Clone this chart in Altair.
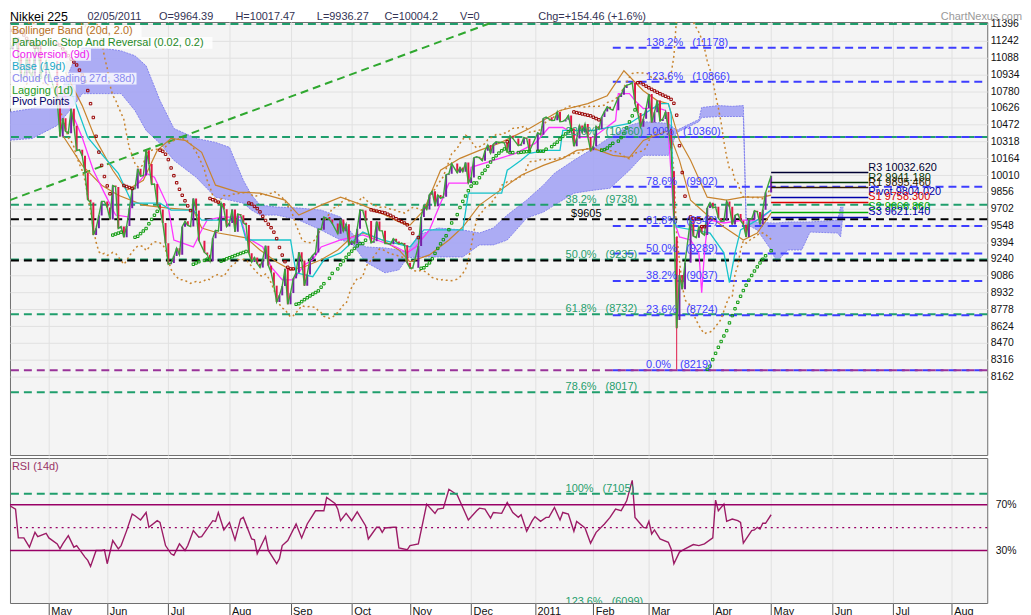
import altair as alt
import numpy as np
import pandas as pd

# ---------------- DATA ----------------
closes_2010 = {
    "03": [(24, 10815), (25, 10828), (26, 10996), (29, 10986), (30, 11097), (31, 11090)],
    "04": [(1, 11244), (2, 11286), (5, 11339), (6, 11282), (7, 11292), (8, 11168), (9, 11204),
           (12, 11181), (13, 11161), (14, 11204), (15, 11273), (16, 11102), (19, 10909), (20, 10900),
           (21, 11091), (22, 10949), (23, 10914), (26, 11165), (27, 11212), (28, 10924), (30, 11057)],
    "05": [(6, 10695), (7, 10364), (10, 10530), (11, 10411), (12, 10394), (13, 10620), (14, 10462),
           (17, 10235), (18, 10242), (19, 10186), (20, 10030), (21, 9784), (24, 9758), (25, 9459),
           (26, 9522), (27, 9639), (28, 9768), (31, 9768)],
    "06": [(1, 9711), (2, 9603), (3, 9914), (4, 9901), (7, 9520), (8, 9537), (9, 9439), (10, 9542),
           (11, 9705), (14, 9879), (15, 9887), (16, 10067), (17, 9999), (18, 10006), (21, 10238),
           (22, 10112), (23, 9923), (24, 9928), (25, 9737), (28, 9693), (29, 9570), (30, 9383)],
    "07": [(1, 9191), (2, 9203), (5, 9266), (6, 9338), (7, 9279), (8, 9535), (9, 9585), (12, 9548),
           (13, 9537), (14, 9795), (15, 9685), (16, 9408), (20, 9300), (21, 9278), (22, 9220),
           (23, 9431), (26, 9503), (27, 9496), (28, 9753), (29, 9696), (30, 9537)],
    "08": [(2, 9570), (3, 9694), (4, 9489), (5, 9653), (6, 9642), (9, 9572), (10, 9551), (11, 9292),
           (12, 9212), (13, 9253), (16, 9196), (17, 9161), (18, 9240), (19, 9362), (20, 9179),
           (23, 9116), (24, 8995), (25, 8845), (26, 8906), (27, 8991), (30, 9149), (31, 8824)],
    "09": [(1, 8927), (2, 9062), (3, 9114), (6, 9301), (7, 9226), (8, 8994), (9, 9098), (10, 9239),
           (13, 9275), (14, 9300), (15, 9516), (16, 9509), (17, 9626), (21, 9602), (22, 9566),
           (24, 9471), (27, 9603), (28, 9495), (29, 9559), (30, 9369)],
    "10": [(1, 9404), (4, 9381), (5, 9518), (6, 9691), (7, 9684), (8, 9588), (12, 9388), (13, 9403),
           (14, 9583), (15, 9500), (18, 9498), (19, 9381), (20, 9382), (21, 9376), (22, 9426),
           (25, 9401), (26, 9377), (27, 9387), (28, 9366), (29, 9202)],
    "11": [(1, 9154), (2, 9159), (4, 9358), (5, 9625), (8, 9732), (9, 9694), (10, 9830), (11, 9861),
           (12, 9724), (15, 9827), (16, 9797), (17, 9811), (18, 10013), (19, 10022), (22, 10115),
           (24, 10030), (25, 10079), (26, 10039), (29, 10125), (30, 9937)],
    "12": [(1, 9988), (2, 10169), (3, 10178), (6, 10167), (7, 10141), (8, 10232), (9, 10285),
           (10, 10211), (13, 10293), (14, 10316), (15, 10309), (16, 10311), (17, 10303), (20, 10216),
           (21, 10370), (22, 10346), (24, 10279), (27, 10292), (28, 10355), (29, 10344), (30, 10229)],
}
closes_2011 = {
    "01": [(4, 10398), (5, 10380), (6, 10529), (7, 10541), (11, 10510), (12, 10512), (13, 10589),
           (14, 10499), (17, 10502), (18, 10518), (19, 10557), (20, 10437), (21, 10274), (24, 10345),
           (25, 10464), (26, 10401), (27, 10479), (28, 10360), (31, 10237)],
    "02": [(1, 10274), (2, 10457), (3, 10431), (4, 10543), (7, 10592), (8, 10636), (9, 10617),
           (10, 10605), (14, 10725), (15, 10746), (16, 10808), (17, 10836), (18, 10842), (21, 10857),
           (22, 10664), (23, 10579), (24, 10452), (25, 10526), (28, 10624)],
    "03": [(1, 10754), (2, 10492), (3, 10586), (4, 10693), (7, 10505), (8, 10525), (9, 10589),
           (10, 10434), (11, 10254), (14, 9620), (15, 8605), (16, 9093), (17, 8962), (18, 9206),
           (22, 9608), (23, 9449), (24, 9435), (25, 9536), (28, 9478), (29, 9459), (30, 9708), (31, 9755)],
    "04": [(1, 9708), (4, 9718), (5, 9615), (6, 9584), (7, 9590), (8, 9768), (11, 9719), (12, 9556),
           (13, 9641), (14, 9653), (15, 9591), (18, 9556), (19, 9441), (20, 9607), (21, 9606),
           (22, 9682), (25, 9671), (26, 9558), (27, 9691), (28, 9849)],
    "05": [(2, 10004)],
}
# open, high, low of the crash days
candle_ohl = {
    "2011-03-14": (10044, 10049, 9578),
    "2011-03-15": (9441, 9441, 8227),
    "2011-03-16": (8680, 9150, 8680),
}

cloud = [
    ("2010-04-12", 10583, 10328), ("2010-04-23", 10620, 10346), ("2010-05-06", 10693, 10465),
    ("2010-05-14", 11058, 10647), ("2010-05-19", 11177, 10757), ("2010-05-28", 11177, 10757),
    ("2010-06-08", 11149, 10757), ("2010-06-15", 11104, 10602), ("2010-06-21", 11012, 10419),
    ("2010-06-28", 10693, 10300), ("2010-07-05", 10437, 10145), ("2010-07-15", 10346, 9990),
    ("2010-07-26", 10309, 9807), ("2010-08-02", 10264, 9780), ("2010-08-09", 9962, 9752),
    ("2010-08-12", 9825, 9688), ("2010-08-17", 9734, 9643), ("2010-08-25", 9716, 9643),
    ("2010-09-06", 9707, 9597), ("2010-09-16", 9688, 9506), ("2010-09-27", 9624, 9414),
    ("2010-10-01", 9478, 9387), ("2010-10-08", 9350, 9213), ("2010-10-19", 9341, 9113),
    ("2010-10-26", 9323, 9140), ("2010-10-29", 9296, 9250), ("2010-11-04", 9460, 9259),
    ("2010-11-15", 9524, 9259), ("2010-11-26", 9506, 9259), ("2010-12-06", 9478, 9369),
    ("2010-12-13", 9524, 9369), ("2010-12-20", 9643, 9414), ("2010-12-29", 9780, 9615),
    ("2011-01-06", 9917, 9670), ("2011-01-12", 10026, 9734), ("2011-01-21", 10145, 9844),
    ("2011-02-01", 10255, 9871), ("2011-02-09", 10355, 9889), ("2011-02-18", 10465, 10054),
    ("2011-02-25", 10500, 10191), ("2011-03-10", 10483, 10191), ("2011-03-15", 10420, 10400),
    ("2011-03-25", 10520, 10500), ("2011-03-28", 10629, 10538), ("2011-04-05", 10647, 10547),
    ("2011-04-12", 10640, 10547), ("2011-04-18", 10647, 10547), ("2011-04-19", 9597, 9561),
    ("2011-04-25", 9579, 9506), ("2011-05-02", 9570, 9323), ("2011-05-04", 9570, 9213),
    ("2011-05-10", 9579, 9323), ("2011-05-17", 9579, 9323), ("2011-05-20", 9579, 9487),
    ("2011-06-03", 9597, 9478), ("2011-06-06", 9716, 9442), ("2011-06-07", 9716, 9688),
]
conversion = [
    ("2010-05-10", 10784), ("2010-05-19", 10355), ("2010-05-25", 10054), ("2010-05-31", 9844),
    ("2010-06-04", 9643), ("2010-06-11", 9624), ("2010-06-14", 9871), ("2010-06-21", 10026),
    ("2010-06-24", 9990), ("2010-07-01", 9716), ("2010-07-05", 9414), ("2010-07-14", 9350),
    ("2010-07-19", 9506), ("2010-07-21", 9597), ("2010-07-28", 9624), ("2010-08-06", 9624),
    ("2010-08-10", 9442), ("2010-08-18", 9350), ("2010-08-23", 9168), ("2010-08-27", 9049),
    ("2010-09-02", 9049), ("2010-09-08", 9186), ("2010-09-13", 9232), ("2010-09-16", 9350),
    ("2010-09-27", 9414), ("2010-10-07", 9460), ("2010-10-25", 9350), ("2010-10-29", 9296),
    ("2010-11-03", 9350), ("2010-11-10", 9506), ("2010-11-16", 9752), ("2010-11-19", 9935),
    ("2010-11-30", 9935), ("2010-12-01", 10081), ("2010-12-13", 10145), ("2010-12-23", 10209),
    ("2011-01-03", 10300), ("2011-01-10", 10446), ("2011-01-17", 10446), ("2011-01-25", 10355),
    ("2011-02-01", 10355), ("2011-02-11", 10510), ("2011-02-14", 10757), ("2011-02-18", 10757),
    ("2011-02-22", 10693), ("2011-02-25", 10620), ("2011-03-04", 10629), ("2011-03-09", 10602),
    ("2011-03-10", 10419), ("2011-03-14", 9597), ("2011-03-16", 9442), ("2011-03-22", 9414),
    ("2011-03-25", 9296), ("2011-03-28", 8930), ("2011-03-29", 9296), ("2011-03-30", 9533),
    ("2011-03-31", 9597), ("2011-04-07", 9570), ("2011-04-18", 9597), ("2011-04-25", 9597),
    ("2011-04-27", 9624), ("2011-05-02", 9688),
]
base = [
    ("2010-05-12", 10848), ("2010-05-21", 10355), ("2010-05-31", 10172), ("2010-06-07", 10026),
    ("2010-06-11", 9807), ("2010-06-14", 9752), ("2010-06-28", 9752), ("2010-07-02", 9688),
    ("2010-07-14", 9688), ("2010-07-19", 9597), ("2010-08-06", 9597), ("2010-08-10", 9414),
    ("2010-09-01", 9414), ("2010-09-03", 9113), ("2010-09-13", 9077), ("2010-09-17", 9232),
    ("2010-09-27", 9296), ("2010-10-07", 9487), ("2010-10-18", 9414), ("2010-11-01", 9350),
    ("2010-11-08", 9506), ("2010-11-26", 9506), ("2010-11-30", 9844), ("2010-12-16", 9844),
    ("2010-12-20", 10054), ("2010-12-27", 10145), ("2010-12-30", 10209), ("2011-01-07", 10236),
    ("2011-01-14", 10236), ("2011-01-17", 10419), ("2011-02-01", 10419), ("2011-02-18", 10483),
    ("2011-03-07", 10665), ("2011-03-10", 10665), ("2011-03-11", 10574), ("2011-03-14", 9597),
    ("2011-03-15", 9533), ("2011-03-31", 9478), ("2011-04-07", 9296), ("2011-04-11", 9022),
    ("2011-04-13", 9296), ("2011-04-15", 9506), ("2011-04-25", 9597), ("2011-05-02", 9688),
]
band_upper = [
    ("2010-05-11", 10949), ("2010-05-19", 10647), ("2010-05-26", 10328), ("2010-06-03", 10054),
    ("2010-06-10", 9871), ("2010-06-18", 9962), ("2010-06-25", 10236), ("2010-07-02", 10346),
    ("2010-07-09", 10328), ("2010-07-19", 10218), ("2010-07-26", 9917), ("2010-08-05", 9853),
    ("2010-08-17", 9844), ("2010-08-30", 9780), ("2010-09-06", 9643), ("2010-09-16", 9734),
    ("2010-09-27", 9807), ("2010-10-07", 9734), ("2010-10-19", 9643), ("2010-10-26", 9579),
    ("2010-11-01", 9551), ("2010-11-08", 9688), ("2010-11-16", 10054), ("2010-11-25", 10163),
    ("2010-12-06", 10236), ("2010-12-15", 10300), ("2010-12-30", 10437), ("2011-01-14", 10602),
    ("2011-01-28", 10665), ("2011-02-08", 10738), ("2011-02-16", 10967), ("2011-02-25", 10784),
    ("2011-03-04", 10693), ("2011-03-10", 10665), ("2011-03-16", 10328), ("2011-03-22", 10145),
    ("2011-03-30", 9807), ("2011-04-08", 9780), ("2011-04-18", 9807), ("2011-04-27", 9807),
    ("2011-05-02", 9825),
]
band_lower = [
    ("2010-05-10", 10373), ("2010-05-19", 10099), ("2010-05-28", 9917), ("2010-06-07", 9825),
    ("2010-06-18", 9734), ("2010-07-01", 9707), ("2010-07-14", 9688), ("2010-07-19", 9524),
    ("2010-07-27", 9478), ("2010-08-10", 9433), ("2010-08-17", 9323), ("2010-08-25", 9213),
    ("2010-09-01", 9140), ("2010-09-08", 9168), ("2010-09-16", 9232), ("2010-09-24", 9323),
    ("2010-10-01", 9442), ("2010-10-07", 9478), ("2010-10-18", 9414), ("2010-10-26", 9323),
    ("2010-11-01", 9213), ("2010-11-10", 9277), ("2010-11-19", 9414), ("2010-11-26", 9533),
    ("2010-12-06", 9734), ("2010-12-14", 9844), ("2010-12-27", 10008), ("2011-01-06", 10099),
    ("2011-01-17", 10163), ("2011-01-24", 10236), ("2011-02-01", 10255), ("2011-02-10", 10191),
    ("2011-02-18", 10172), ("2011-02-25", 10328), ("2011-03-10", 10419), ("2011-03-16", 10145),
    ("2011-03-22", 9780), ("2011-03-30", 9643), ("2011-04-07", 9533), ("2011-04-18", 9414),
    ("2011-04-25", 9478), ("2011-05-02", 9661),
]
rsi_points = [
    ("2010-04-12", 70.6), ("2010-04-15", 66.2), ("2010-04-16", 41.0), ("2010-04-20", 41.0),
    ("2010-04-22", 32.9), ("2010-04-26", 45.9), ("2010-04-27", 42.2), ("2010-04-30", 45.1),
    ("2010-05-03", 41.0), ("2010-05-06", 35.8), ("2010-05-07", 31.4), ("2010-05-10", 35.8),
    ("2010-05-12", 43.0), ("2010-05-14", 32.9), ("2010-05-17", 34.3), ("2010-05-20", 24.2),
    ("2010-05-21", 21.3), ("2010-05-24", 16.1), ("2010-05-26", 30.0), ("2010-05-28", 30.0),
    ("2010-05-31", 30.6), ("2010-06-01", 18.4), ("2010-06-03", 38.7), ("2010-06-07", 31.4),
    ("2010-06-08", 34.3), ("2010-06-10", 47.4), ("2010-06-14", 61.9), ("2010-06-15", 60.4),
    ("2010-06-17", 56.7), ("2010-06-21", 63.3), ("2010-06-22", 50.3), ("2010-06-25", 56.1),
    ("2010-06-28", 54.6), ("2010-06-30", 34.3), ("2010-07-02", 27.1), ("2010-07-05", 25.7),
    ("2010-07-07", 35.8), ("2010-07-09", 30.0), ("2010-07-12", 34.3), ("2010-07-14", 47.4),
    ("2010-07-16", 41.6), ("2010-07-19", 42.2), ("2010-07-23", 56.1), ("2010-07-26", 55.5),
    ("2010-07-27", 63.3), ("2010-07-29", 48.0), ("2010-08-02", 54.6), ("2010-08-04", 39.3),
    ("2010-08-06", 57.5), ("2010-08-09", 59.0), ("2010-08-12", 40.1), ("2010-08-13", 39.3),
    ("2010-08-16", 27.1), ("2010-08-19", 42.2), ("2010-08-20", 30.0), ("2010-08-25", 18.4),
    ("2010-08-26", 22.8), ("2010-08-27", 34.3), ("2010-08-31", 38.7), ("2010-09-03", 53.2),
    ("2010-09-07", 41.0), ("2010-09-09", 53.2), ("2010-09-14", 64.8), ("2010-09-17", 64.8),
    ("2010-09-20", 76.4), ("2010-09-23", 71.2), ("2010-09-24", 66.2), ("2010-09-27", 56.1),
    ("2010-09-29", 62.5), ("2010-10-01", 56.1), ("2010-10-05", 63.9), ("2010-10-08", 51.7),
    ("2010-10-11", 40.1), ("2010-10-14", 50.3), ("2010-10-15", 50.3), ("2010-10-18", 45.9),
    ("2010-10-19", 49.7), ("2010-10-22", 50.3), ("2010-10-25", 50.3), ("2010-10-26", 32.3),
    ("2010-10-29", 30.6), ("2010-11-01", 34.3), ("2010-11-04", 35.8), ("2010-11-08", 59.0),
    ("2010-11-09", 70.6), ("2010-11-12", 62.5), ("2010-11-15", 66.2), ("2010-11-17", 67.1),
    ("2010-11-19", 83.6), ("2010-11-24", 78.7), ("2010-11-26", 67.7), ("2010-11-30", 56.7),
    ("2010-12-03", 64.8), ("2010-12-06", 67.1), ("2010-12-08", 66.2), ("2010-12-10", 58.4),
    ("2010-12-13", 63.3), ("2010-12-16", 62.5), ("2010-12-20", 72.0), ("2010-12-22", 63.3),
    ("2010-12-24", 59.0), ("2010-12-27", 61.3), ("2010-12-29", 46.8), ("2010-12-31", 56.1),
    ("2011-01-03", 59.6), ("2011-01-05", 55.5), ("2011-01-07", 59.0), ("2011-01-10", 59.0),
    ("2011-01-12", 67.7), ("2011-01-14", 56.7), ("2011-01-17", 63.3), ("2011-01-19", 61.9),
    ("2011-01-21", 46.8), ("2011-01-24", 55.5), ("2011-01-27", 49.7), ("2011-01-31", 36.4),
    ("2011-02-02", 45.9), ("2011-02-07", 53.2), ("2011-02-09", 59.0), ("2011-02-11", 66.2),
    ("2011-02-15", 64.8), ("2011-02-17", 73.5), ("2011-02-21", 91.4), ("2011-02-22", 59.0),
    ("2011-02-25", 50.3), ("2011-02-28", 49.7), ("2011-03-01", 55.5), ("2011-03-02", 44.5),
    ("2011-03-03", 48.0), ("2011-03-07", 40.1), ("2011-03-10", 37.2), ("2011-03-11", 31.4),
    ("2011-03-14", 18.4), ("2011-03-16", 28.6), ("2011-03-18", 31.4), ("2011-03-23", 35.2),
    ("2011-03-25", 34.3), ("2011-03-29", 35.8), ("2011-04-01", 41.0), ("2011-04-04", 74.1),
    ("2011-04-05", 64.8), ("2011-04-07", 70.6), ("2011-04-08", 55.5), ("2011-04-12", 57.5),
    ("2011-04-14", 56.1), ("2011-04-15", 54.6), ("2011-04-18", 36.4), ("2011-04-21", 47.4),
    ("2011-04-22", 48.0), ("2011-04-25", 50.3), ("2011-04-26", 48.8), ("2011-04-27", 53.8),
    ("2011-04-28", 53.8), ("2011-05-02", 61.3),
]

green_fib_pct = ["23.6%", "38.2%", "50.0%", "61.8%", "78.6%"]
green_fib_val = [10360, 9738, 9235, 8732, 8017]
green_fib_top = 11396
blue_fib_pct = ["138.2%", "123.6%", "100%", "78.6%", "61.8%", "50.0%", "38.2%", "23.6%", "0.0%"]
blue_fib_val = [11178, 10866, 10360, 9902, 9542, 9289, 9037, 8724, 8219]
rsi_fib_pct = ["100%", "123.6%"]
rsi_fib_val = [7105, 6099]
black_levels = [9605, 9225]
purple_level = 8219
trend_pts = [("2010-04-13", 9780), ("2010-12-13", 11414)]

pivot_names = ["R3", "R2", "R1", "Pivot", "S1", "S2", "S3"]
pivot_vals = [10032.62, 9941.18, 9895.46, 9804.02, 9758.30, 9666.86, 9621.14]

y_ticks = list(range(8162, 11397, 154))
month_names = ["May", "Jun", "Jul", "Aug", "Sep", "Oct", "Nov", "Dec", "2011",
               "Feb", "Mar", "Apr", "May", "Jun", "Jul", "Aug"]
header_fields = ["02/05/2011", "O=9964.39", "H=10017.47", "L=9936.27", "C=10004.2", "V=0",
                 "Chg=+154.46 (+1.6%)"]
legend_items = ["Bollinger Band (20d, 2.0)", "Parabolic Stop And Reversal (0.02, 0.2)",
                "Conversion (9d)", "Base (19d)", "Cloud (Leading 27d, 38d)", "Lagging (1d)",
                "Pivot Points"]

# ---------------- helpers ----------------
START = np.datetime64("2010-04-12")


def bidx(dates):
    d = np.array(list(dates), dtype="datetime64[D]")
    return np.busday_count(START, d).astype(float)


rows = []
for yr, months in (("2010", closes_2010), ("2011", closes_2011)):
    for m, pairs in months.items():
        for d, c in pairs:
            rows.append((f"{yr}-{m}-{d:02d}", float(c)))
df = pd.DataFrame(rows, columns=["date", "close"])
df["open"] = df["close"].shift(1).fillna(df["close"])
df["high"] = df[["open", "close"]].max(axis=1)
df["low"] = df[["open", "close"]].min(axis=1)
for dt, (o, h, l) in candle_ohl.items():
    k = df["date"] == dt
    df.loc[k, "open"] = o
    df.loc[k, "high"] = max(h, float(df.loc[k, "close"].iloc[0]))
    df.loc[k, "low"] = l
df["idx"] = bidx(df["date"])

# Bollinger (20d, 2.0)
mid = df["close"].rolling(20).mean()
sd = df["close"].rolling(20).std(ddof=0)
df["bb_up"] = mid + 2 * sd
df["bb_lo"] = mid - 2 * sd


# Parabolic SAR (0.02, 0.2)
def psar(hi, lo, step=0.02, mx=0.2):
    n = len(hi)
    out = [np.nan] * n
    bull_l = [True] * n
    bull = True
    af = step
    ep = hi[0]
    s = lo[0]
    for i in range(1, n):
        s = s + af * (ep - s)
        if bull:
            s = min(s, lo[i - 1], lo[max(i - 2, 0)])
            if lo[i] < s:
                bull, s, ep, af = False, ep, lo[i], step
            elif hi[i] > ep:
                ep = hi[i]
                af = min(af + step, mx)
        else:
            s = max(s, hi[i - 1], hi[max(i - 2, 0)])
            if hi[i] > s:
                bull, s, ep, af = True, ep, hi[i], step
            elif lo[i] < ep:
                ep = lo[i]
                af = min(af + step, mx)
        out[i] = s
        bull_l[i] = bull
    return out, bull_l


sar, bull = psar(df["high"].tolist(), df["low"].tolist())
df["sar"] = sar
df["bull"] = bull

vis = df[df["idx"] >= 0].copy()
vis["up"] = vis["close"] >= vis["open"]

# ---------------- layout constants ----------------
W, MAIN_H, RSI_H, GAP = 984, 436, 146, 1
X_DOM = [1, 352.8]
Y_MIN, Y_MAX = 7441, 11414
R_MIN, R_MAX = -16, 111
FONT = "Liberation Sans"
GRID = "#e1e1e1"

month_starts = np.busday_offset(
    pd.date_range("2010-05-01", "2011-08-01", freq="MS").values.astype("datetime64[D]"), 0, roll="forward")
month_idx = [int(v) for v in np.busday_count(START, month_starts)]
label_expr = "".join(f"datum.value == {i} ? '{n}' : " for i, n in zip(month_idx, month_names)) + "''"

xs = alt.Scale(domain=X_DOM, nice=False, zero=False)
ys = alt.Scale(domain=[Y_MIN, Y_MAX], nice=False, zero=False)
rs = alt.Scale(domain=[R_MIN, R_MAX], nice=False, zero=False)

xa_main = alt.Axis(values=month_idx, labels=False, ticks=False, domain=False, grid=True,
                   gridColor=GRID, title=None)
ya_main = alt.Axis(orient="right", values=y_ticks, format="d", grid=True, gridColor=GRID, ticks=False,
                   domain=False, labelPadding=3, labelFontSize=10.5, labelColor="#111111",
                   labelFont=FONT, title=None)
xa_rsi = alt.Axis(values=month_idx, labelExpr=label_expr, grid=True, gridColor=GRID, ticks=True,
                  tickSize=12, tickColor="#555555", domain=False, labelAlign="left",
                  labelBaseline="top", labelPadding=-9, labelOffset=2, labelFontSize=11,
                  labelColor="#111111", labelFont=FONT, labelFlush=False, labelOverlap=False,
                  title=None)
ya_rsi = alt.Axis(orient="right", values=[30, 70], labelExpr="datum.value + '%'", grid=False,
                  ticks=False, domain=False, labelPadding=8, labelFontSize=10.5,
                  labelColor="#111111", labelFont=FONT, title=None)


def X(f="idx"):
    return alt.X(f"{f}:Q", scale=xs, axis=xa_main, title=None)


def Y(f):
    return alt.Y(f"{f}:Q", scale=ys, axis=ya_main, title=None)


def XR(f="idx"):
    return alt.X(f"{f}:Q", scale=xs, axis=xa_rsi, title=None)


def YR(f):
    return alt.Y(f"{f}:Q", scale=rs, axis=ya_rsi, title=None)


def pts_df(pairs):
    d = pd.DataFrame(pairs, columns=["date", "v"])
    d["idx"] = bidx(d["date"])
    return d


L = []
# cloud
cdf = pd.DataFrame(cloud, columns=["date", "top", "bot"])
cdf["idx"] = bidx(cdf["date"])
L.append(alt.Chart(cdf).mark_area(color="#a4a4f4", opacity=0.9, clip=True).encode(
    x=X(), y=Y("top"), y2=alt.Y2("bot")))
for col in ["top", "bot"]:
    L.append(alt.Chart(cdf).mark_line(color="#8484ee", strokeWidth=1, strokeDash=[2, 1], clip=True).encode(
        x=X(), y=Y(col)))

# full-width fib / support lines
gfl = pd.DataFrame({"v": [green_fib_top] + green_fib_val})
L.append(alt.Chart(gfl).mark_rule(color="#1f9e6c", strokeWidth=2, strokeDash=[8, 5]).encode(y=Y("v")))
bfl = pd.DataFrame({"v": blue_fib_val})
bfl["x0"] = float(bidx(["2011-02-10"])[0])
bfl["x1"] = X_DOM[1]
L.append(alt.Chart(bfl).mark_rule(color="#3d3dff", strokeWidth=2, strokeDash=[8, 5], clip=True).encode(
    x=X("x0"), x2=alt.X2("x1"), y=Y("v")))
L.append(alt.Chart(pd.DataFrame({"v": black_levels})).mark_rule(
    color="#000000", strokeWidth=2, strokeDash=[8, 5]).encode(y=Y("v")))
L.append(alt.Chart(pd.DataFrame({"v": [purple_level]})).mark_rule(
    color="#993399", strokeWidth=2, strokeDash=[8, 5]).encode(y=Y("v")))
# trend line
L.append(alt.Chart(pts_df(trend_pts)).mark_line(color="#2fa82f", strokeWidth=2, strokeDash=[8, 5],
                                                clip=True).encode(x=X(), y=Y("v")))
# bollinger (dotted)
bb = vis.dropna(subset=["bb_up"])
for col in ["bb_up", "bb_lo"]:
    L.append(alt.Chart(bb[["idx", col]]).mark_line(color="#c8842e", strokeWidth=1.5, strokeDash=[2, 3],
                                                   clip=True).encode(x=X(), y=Y(col)))
# solid brown bands
for pairs in (band_upper, band_lower):
    L.append(alt.Chart(pts_df(pairs)).mark_line(color="#c8842e", strokeWidth=1.2, clip=True).encode(
        x=X(), y=Y("v")))
# conversion & base
L.append(alt.Chart(pts_df(conversion)).mark_line(color="#ff33ff", strokeWidth=1.3, clip=True).encode(
    x=X(), y=Y("v")))
L.append(alt.Chart(pts_df(base)).mark_line(color="#17c4cc", strokeWidth=1.3, clip=True).encode(
    x=X(), y=Y("v")))
# candles
wick = vis[vis["date"].isin(list(candle_ohl.keys()))]
L.append(alt.Chart(wick).mark_rule(color="#e01848", strokeWidth=1, clip=True).encode(
    x=X(), y=Y("low"), y2=alt.Y2("high")))
L.append(alt.Chart(vis[vis["up"]]).mark_rule(color="#7522a6", strokeWidth=2, clip=True).encode(
    x=X(), y=Y("open"), y2=alt.Y2("close")))
L.append(alt.Chart(vis[~vis["up"]]).mark_rule(color="#e01848", strokeWidth=2, clip=True).encode(
    x=X(), y=Y("open"), y2=alt.Y2("close")))
# lagging (close)
L.append(alt.Chart(vis[["idx", "close"]]).mark_line(color="#3aa33a", strokeWidth=1.4, clip=True).encode(
    x=X(), y=Y("close")))
# SAR
sv = vis.dropna(subset=["sar"])
L.append(alt.Chart(sv[sv["bull"]]).mark_point(shape="square", filled=False, size=6, strokeWidth=1,
                                              color="#0a9a0a", opacity=1, clip=True).encode(x=X(), y=Y("sar")))
L.append(alt.Chart(sv[~sv["bull"]]).mark_point(shape="square", filled=False, size=6, strokeWidth=1,
                                               color="#990000", opacity=1, clip=True).encode(x=X(), y=Y("sar")))
# pivot points
piv_colors = ["#000033", "#003300", "#331a00", "#0000aa", "#dd0000", "#00aa00", "#0000aa"]
pdf = pd.DataFrame({"name": pivot_names, "v": pivot_vals})
pdf["label"] = [f"{n} {v:.3f}" for n, v in zip(pivot_names, pivot_vals)]
pdf["col"] = piv_colors
pdf["x0"] = float(bidx(["2011-05-02"])[0])
pdf["x1"] = float(bidx(["2011-06-20"])[0])
L.append(alt.Chart(pdf).mark_rule(strokeWidth=1.5).encode(
    x=X("x0"), x2=alt.X2("x1"), y=Y("v"), color=alt.Color("col:N", scale=None)))
L.append(alt.Chart(pdf).mark_text(align="left", baseline="alphabetic", dy=-2, fontSize=11,
                                  font=FONT).encode(
    x=X("x1"), y=Y("v"), text="label:N", color=alt.Color("col:N", scale=None)))
# fib labels
NB = "\u00a0\u00a0\u00a0"
gtx = pd.DataFrame({"v": green_fib_val, "t": [f"{p}{NB}({v})" for p, v in zip(green_fib_pct, green_fib_val)]})
gtx["x"] = float(bidx(["2011-01-18"])[0])
L.append(alt.Chart(gtx).mark_text(align="left", baseline="alphabetic", dy=-2, fontSize=11, font=FONT,
                                  color="#1f9e6c").encode(x=X("x"), y=Y("v"), text="t:N"))
btx = pd.DataFrame({"v": blue_fib_val, "t": [f"{p}{NB}({v})" for p, v in zip(blue_fib_pct, blue_fib_val)]})
btx["x"] = float(bidx(["2011-02-28"])[0])
L.append(alt.Chart(btx).mark_text(align="left", baseline="alphabetic", dy=-2, fontSize=11, font=FONT,
                                  color="#3d3dff").encode(x=X("x"), y=Y("v"), text="t:N"))
ktx = pd.DataFrame({"v": [black_levels[0]], "t": [f"${black_levels[0]}"], "x": [float(bidx(["2011-01-20"])[0])]})
L.append(alt.Chart(ktx).mark_text(align="left", baseline="alphabetic", dy=-2, fontSize=11, font=FONT,
                                  color="#000000").encode(x=X("x"), y=Y("v"), text="t:N"))
# legend (top-left) with white boxes
one = pd.DataFrame({"a": [0]})
leg_colors = ["#b8701c", "#1f8a1f", "#ee22ee", "#20a8c8", "#8a8af0", "#239a23", "#000066"]
for i, (t, c) in enumerate(zip(legend_items, leg_colors)):
    yc = 9 + 12 * i
    L.append(alt.Chart(one).mark_rect(color="white", opacity=0.8).encode(
        x=alt.value(0), x2=alt.value(5 + len(t) * 5.1), y=alt.value(yc - 6), y2=alt.value(yc + 6)))
    L.append(alt.Chart(one).mark_text(align="left", baseline="middle", fontSize=11, font=FONT,
                                      color=c).encode(x=alt.value(2), y=alt.value(yc), text=alt.value(t)))
# header line
L.append(alt.Chart(one).mark_text(align="left", baseline="middle", fontSize=12.5, font=FONT,
                                  color="#000000").encode(x=alt.value(0), y=alt.value(-5),
                                                          text=alt.value("Nikkei 225")))
hx = [78, 150, 227, 309, 377, 453, 532]
for t, xv in zip(header_fields, hx):
    L.append(alt.Chart(one).mark_text(align="left", baseline="middle", fontSize=11, font=FONT,
                                      color="#333355").encode(x=alt.value(xv), y=alt.value(-5),
                                                              text=alt.value(t)))
L.append(alt.Chart(one).mark_text(align="right", baseline="middle", fontSize=11, font=FONT,
                                  color="#9a9a9a").encode(x=alt.value(1019), y=alt.value(-5),
                                                          text=alt.value("ChartNexus.com")))

main = alt.layer(*L).properties(width=W, height=MAIN_H)

# ---------------- RSI panel ----------------


def main_to_rsi(v):
    ypx = MAIN_H * (Y_MAX - v) / (Y_MAX - Y_MIN)
    below = ypx - MAIN_H - GAP
    return R_MAX - below * (R_MAX - R_MIN) / RSI_H


R = []
rdf = pd.DataFrame(rsi_points, columns=["date", "rsi"])
rdf["idx"] = bidx(rdf["date"])
R.append(alt.Chart(rdf).mark_line(color="#9c1c66", strokeWidth=1.4, clip=True).encode(x=XR(), y=YR("rsi")))
R.append(alt.Chart(pd.DataFrame({"v": [70, 30]})).mark_rule(color="#990066", strokeWidth=1.5).encode(y=YR("v")))
R.append(alt.Chart(pd.DataFrame({"v": [50]})).mark_rule(color="#990066", strokeWidth=1.3,
                                                        strokeDash=[2, 4]).encode(y=YR("v")))
rf = pd.DataFrame({"v": [main_to_rsi(v) for v in rsi_fib_val],
                   "t": [f"{p}{NB}({v})" for p, v in zip(rsi_fib_pct, rsi_fib_val)]})
rf["x"] = float(bidx(["2011-01-18"])[0])
R.append(alt.Chart(rf.iloc[:1]).mark_rule(color="#1f9e6c", strokeWidth=2, strokeDash=[8, 5]).encode(y=YR("v")))
R.append(alt.Chart(rf.iloc[:1]).mark_text(align="left", baseline="alphabetic", dy=-2, fontSize=11, font=FONT,
                                          color="#1f9e6c").encode(x=XR("x"), y=YR("v"), text="t:N"))
R.append(alt.Chart(rf.iloc[1:]).mark_text(align="left", baseline="alphabetic", dy=2, fontSize=11, font=FONT,
                                          color="#1f9e6c", clip=True).encode(x=XR("x"), y=YR("v"), text="t:N"))
R.append(alt.Chart(one).mark_text(align="left", baseline="middle", fontSize=11, font=FONT,
                                  color="#993366").encode(x=alt.value(2), y=alt.value(9),
                                                          text=alt.value("RSI (14d)")))
rsi = alt.layer(*R).properties(width=W, height=RSI_H)

chart = alt.vconcat(main, rsi, spacing=GAP, background="white").properties(
    padding={"left": 0, "top": 0, "right": 0, "bottom": 0}).configure_view(
    fill="#f4f4f4", stroke="#6e6e6e", strokeWidth=1)

chart.save("out.html", embed_options={"renderer": "svg", "actions": False})
